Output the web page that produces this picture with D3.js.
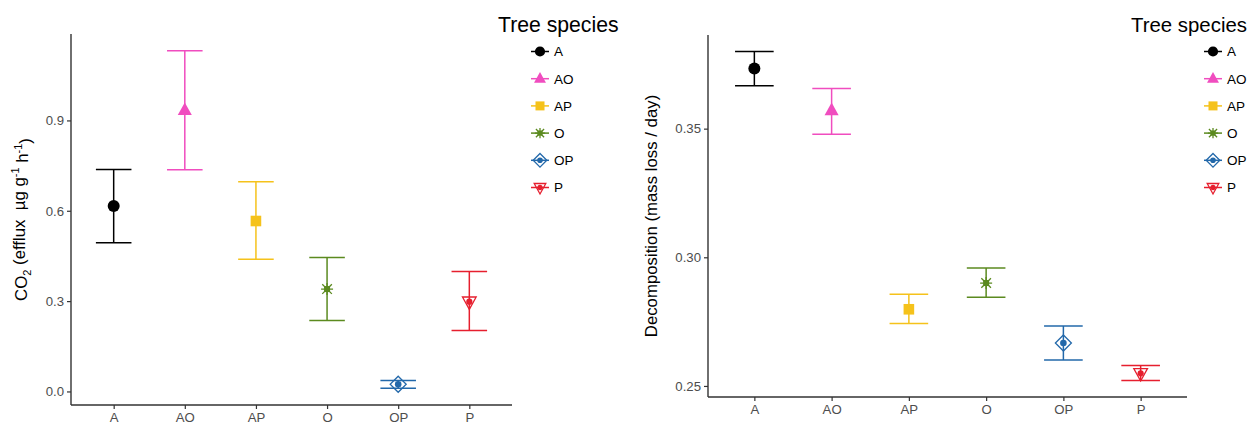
<!DOCTYPE html>
<html>
<head>
<meta charset="utf-8">
<script src="https://cdn.jsdelivr.net/npm/d3@7"></script>
<style>
  html, body { margin: 0; padding: 0; background: #fff; }
  svg { display: block; }
  text { font-family: "Liberation Sans", Arial, sans-serif; }
</style>
</head>
<body>
<svg id="chart" width="1256" height="424"></svg>
<script>
// Tree species and their summary statistics (mean with error-bar limits)
const species = ["A", "AO", "AP", "O", "OP", "P"];

const co2Mean  = [0.616, 0.934, 0.566, 0.340, 0.024, 0.298];
const co2Lower = [0.494, 0.736, 0.439, 0.236, 0.011, 0.202];
const co2Upper = [0.737, 1.131, 0.696, 0.445, 0.036, 0.398];
const co2Ticks = [0.0, 0.3, 0.6, 0.9];

const decMean  = [0.3734, 0.3571, 0.2798, 0.2900, 0.2667, 0.2549];
const decLower = [0.3667, 0.3478, 0.2743, 0.2845, 0.2601, 0.2521];
const decUpper = [0.3800, 0.3656, 0.2856, 0.2958, 0.2733, 0.2579];
const decTicks = [0.25, 0.30, 0.35];

const speciesColors = ["#000000", "#f04dbf", "#f5c21b", "#5b8a1f", "#2268aa", "#e61f2e"];
const speciesShapes = ["circle", "triangle", "square", "asterisk", "diamondOpen", "triangleDownOpen"];

const color = d3.scaleOrdinal().domain(species).range(speciesColors);
const shape = d3.scaleOrdinal().domain(species).range(speciesShapes);

const svg = d3.select("#chart");

// Draw one point glyph centred at (0,0) inside group g
function drawGlyph(g, kind, col, s) {
  s = s || 1;
  if (kind === "circle") {
    g.append("circle").attr("r", 6 * s).attr("fill", col);
  } else if (kind === "triangle") {
    const r = 7.8 * s;
    g.append("path")
      .attr("d", `M0,${-r}L${r * 0.9},${r * 0.62}L${-r * 0.9},${r * 0.62}Z`)
      .attr("fill", col);
  } else if (kind === "square") {
    const h = 5.3 * s;
    g.append("rect").attr("x", -h).attr("y", -h).attr("width", 2 * h).attr("height", 2 * h).attr("fill", col);
  } else if (kind === "asterisk") {
    const r = 6 * s;
    const d = r * 0.8;
    g.append("path")
      .attr("d", `M${-d},${-d}L${d},${d}M${-d},${d}L${d},${-d}M${-r},0L${r},0M0,${-r}L0,${r}`)
      .attr("stroke", col).attr("stroke-width", 1.3).attr("fill", "none");
    g.append("rect").attr("x", -3 * s).attr("y", -3 * s).attr("width", 6 * s).attr("height", 6 * s).attr("fill", col);
  } else if (kind === "diamondOpen") {
    const r = 8 * s;
    g.append("path")
      .attr("d", `M0,${-r}L${r},0L0,${r}L${-r},0Z`)
      .attr("fill", "none").attr("stroke", col).attr("stroke-width", 1.3);
    g.append("circle").attr("r", 3.3 * s).attr("fill", col);
  } else if (kind === "triangleDownOpen") {
    const r = 7.6 * s;
    g.append("path")
      .attr("d", `M0,${r}L${r * 0.9},${-r * 0.62}L${-r * 0.9},${-r * 0.62}Z`)
      .attr("fill", "none").attr("stroke", col).attr("stroke-width", 1.3);
    g.append("circle").attr("r", 3.1 * s).attr("fill", col);
  }
  if (kind === "circle" || kind === "triangle" || kind === "square") {
    g.append("circle").attr("r", 2.5 * s).attr("fill", col);
  }
}

function drawPanel(cfg) {
  const { x0, x1, yTop, yBottom, means, lowers, uppers, ticks, tickFormat } = cfg;

  const lo = d3.min(lowers), hi = d3.max(uppers);
  const pad = (hi - lo) * 0.05;

  const x = d3.scalePoint().domain(species).range([x0, x1]).padding(0.6);
  const y = d3.scaleLinear().domain([lo - pad, hi + pad]).range([yBottom, yTop]);
  const capHalf = x.step() * 0.25;

  const g = svg.append("g");

  // Axes
  const yAxis = g.append("g").attr("transform", `translate(${x0},0)`)
    .call(d3.axisLeft(y).tickValues(ticks).tickFormat(d3.format(tickFormat)).tickSize(4).tickPadding(3));
  const xAxis = g.append("g").attr("transform", `translate(0,${yBottom})`)
    .call(d3.axisBottom(x).tickSize(4).tickPadding(4));

  [yAxis, xAxis].forEach(a => {
    a.select(".domain").attr("stroke", "#333").attr("stroke-width", 1.4);
    a.selectAll(".tick line").attr("stroke", "#333").attr("stroke-width", 1.2);
    a.selectAll(".tick text").attr("fill", "#4d4d4d").style("font-size", "13.2px")
      .style("font-family", "'Liberation Sans', Arial, sans-serif");
  });
  // trim the domain end ticks drawn by d3 so the axis is a clean line
  yAxis.select(".domain").attr("d", `M0,${yBottom}V${yTop}`);
  xAxis.select(".domain").attr("d", `M${x0},0H${x1}`);

  // Error bars and points
  species.forEach((sp, i) => {
    const cx = x(sp);
    const col = color(sp);
    const eb = g.append("g").attr("stroke", col).attr("stroke-width", 1.5).attr("fill", "none");
    eb.append("line").attr("x1", cx).attr("x2", cx).attr("y1", y(uppers[i])).attr("y2", y(lowers[i]));
    eb.append("line").attr("x1", cx - capHalf).attr("x2", cx + capHalf).attr("y1", y(uppers[i])).attr("y2", y(uppers[i]));
    eb.append("line").attr("x1", cx - capHalf).attr("x2", cx + capHalf).attr("y1", y(lowers[i])).attr("y2", y(lowers[i]));

    const pg = g.append("g").attr("transform", `translate(${cx},${y(means[i])})`);
    drawGlyph(pg, shape(sp), col);
  });

  // Y axis title
  g.append("text")
    .attr("transform", `translate(${cfg.titleX},${(yTop + yBottom) / 2}) rotate(-90)`)
    .attr("text-anchor", "middle")
    .attr("fill", "#000")
    .attr("xml:space", "preserve")
    .style("font-size", "16.8px")
    .call(cfg.title);

  // Legend
  const lg = g.append("g");
  lg.append("text").attr("x", cfg.legendX).attr("y", 32)
    .attr("fill", "#000").style("font-size", cfg.legendTitleSize).text("Tree species");
  species.forEach((sp, i) => {
    const ky = 51.5 + i * 27.2;
    const kx = cfg.legendKeyX;
    const col = color(sp);
    lg.append("line").attr("x1", kx - 9).attr("x2", kx + 9).attr("y1", ky).attr("y2", ky)
      .attr("stroke", col).attr("stroke-width", 1.5);
    const kg = lg.append("g").attr("transform", `translate(${kx},${ky})`);
    drawGlyph(kg, shape(sp), col, 0.85);
    lg.append("text").attr("x", kx + 14).attr("y", ky).attr("dy", "0.36em")
      .attr("fill", "#000").style("font-size", "13.5px").text(sp);
  });
}

drawPanel({
  x0: 71, x1: 512, yTop: 34, yBottom: 405,
  means: co2Mean, lowers: co2Lower, uppers: co2Upper,
  ticks: co2Ticks, tickFormat: ".1f",
  titleX: 27, legendX: 498, legendKeyX: 540, legendTitleSize: "21.2px",
  title: t => {
    t.append("tspan").text("CO");
    t.append("tspan").attr("dy", "0.35em").style("font-size", "11px").text("2");
    t.append("tspan").attr("dy", "-0.35em").text(" (efflux  \u00b5g g");
    t.append("tspan").attr("dy", "-0.5em").style("font-size", "11px").text("-1");
    t.append("tspan").attr("dy", "0.5em").text(" h");
    t.append("tspan").attr("dy", "-0.5em").style("font-size", "11px").text("-1");
    t.append("tspan").attr("dy", "0.5em").text(")");
  }
});

drawPanel({
  x0: 708, x1: 1187, yTop: 35, yBottom: 397,
  means: decMean, lowers: decLower, uppers: decUpper,
  ticks: decTicks, tickFormat: ".2f",
  titleX: 657, legendX: 1131, legendKeyX: 1213, legendTitleSize: "20.4px",
  title: t => t.text("Decomposition (mass loss / day)")
});
</script>
</body>
</html>
